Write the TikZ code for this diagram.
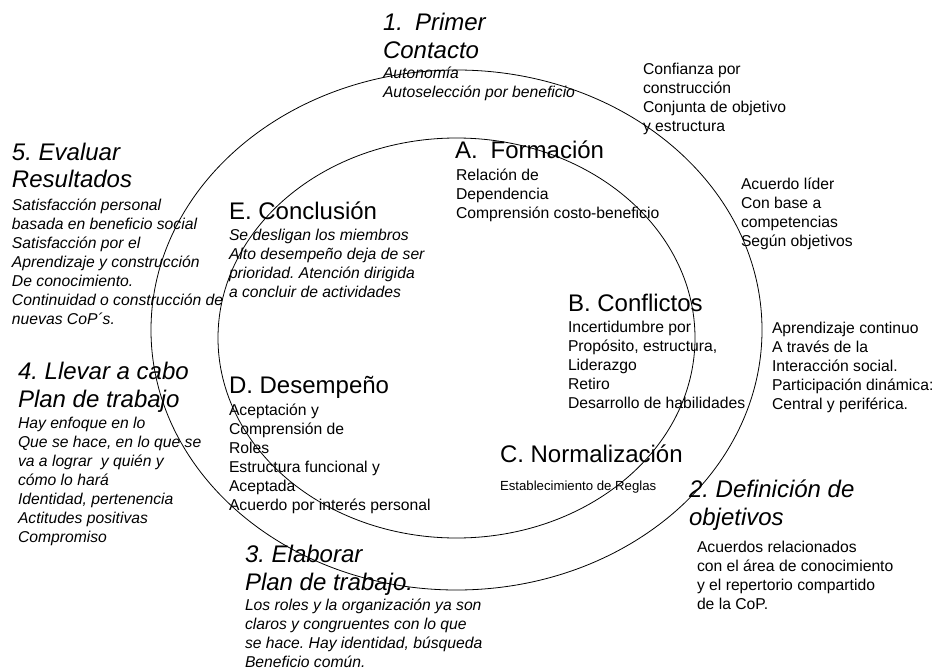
\documentclass[tikz,border=0pt]{standalone}
\usepackage{fontspec}
\setmainfont{Liberation Sans}
\frenchspacing
\begin{document}
\begin{tikzpicture}[x=1pt,y=-1pt,
  ring/.style={draw=black,line width=0.8pt},
  base/.style={anchor=base west,inner sep=0pt,outer sep=0pt,align=left},
  big/.style={base,font=\fontsize{24}{28}\selectfont},
  bigit/.style={base,font=\fontsize{24}{28}\selectfont\itshape},
  small/.style={base,font=\fontsize{15.7}{19}\selectfont},
  smallit/.style={base,font=\fontsize{15.7}{19}\selectfont\itshape},
  tiny/.style={base,font=\fontsize{13.2}{16}\selectfont}]
\useasboundingbox (0,0) rectangle (936,671);
\fill[white] (0,0) rectangle (936,671);
% rings
\draw[ring] (456.5,330) ellipse [x radius=305.5pt, y radius=260pt];
\draw[ring] (456.5,338) ellipse [x radius=238.5pt, y radius=200pt];
% (node positions are the baseline of the LAST line)
% stage 1
\node[bigit] (t1) at (383,59) {1.\hspace{12pt}Primer\\Contacto};
\node[smallit] (s1) at (383,98) {Autonomía\\Autoselección por beneficio};
\node[small] (r1) at (643,132) {Confianza por\\construcción\\Conjunta de objetivo\\y estructura};
\node[small] (r2) at (741,246) {Acuerdo líder\\Con base a\\competencias\\Según objetivos};
% A
\node[big] (tA) at (455,159) {A.\hspace{13pt}Formación};
\node[small] (sA) at (456,218) {Relación de\\Dependencia\\Comprensión costo-beneficio};
% E
\node[big] (tE) at (229,219) {E. Conclusión};
\node[smallit] (sE) at (229,297) {Se desligan los miembros\\Alto desempeño deja de ser\\prioridad. Atención dirigida\\a concluir de actividades};
% 5
\node[bigit] (t5) at (12,188) {5. Evaluar\\Resultados};
\node[smallit] (s5) at (12,324) {Satisfacción personal\\basada en beneficio social\\Satisfacción por el\\Aprendizaje y construcción\\De conocimiento.\\Continuidad o construcción de\\nuevas CoP´s.};
% B
\node[big] (tB) at (568,311) {B. Conflictos};
\node[small] (sB) at (568,408) {Incertidumbre por\\Propósito, estructura,\\Liderazgo\\Retiro\\Desarrollo de habilidades};
\node[small] (r3) at (772,409) {Aprendizaje continuo\\A través de la\\Interacción social.\\Participación dinámica:\\Central y periférica.};
% 4
\node[bigit] (t4) at (18,407) {4. Llevar a cabo\\Plan de trabajo};
\node[smallit] (s4) at (18,542) {Hay enfoque en lo\\Que se hace, en lo que se\\va a lograr~ y quién y\\cómo lo hará\\Identidad, pertenencia\\Actitudes positivas\\Compromiso};
% D
\node[big] (tD) at (229,393) {D. Desempeño};
\node[small] (sD) at (229,510) {Aceptación y\\Comprensión de\\Roles\\Estructura funcional y\\Aceptada\\Acuerdo por interés personal};
% C
\node[big] (tC) at (500,462) {C. Normalización};
\node[tiny] (sC) at (500,490) {Establecimiento de Reglas};
% 2
\node[bigit] (t2) at (689,525) {2. Definición de\\objetivos};
\node[small] (s2) at (697,609) {Acuerdos relacionados\\con el área de conocimiento\\y el repertorio compartido\\de la CoP.};
% 3
\node[bigit] (t3) at (245,590) {3. Elaborar\\Plan de trabajo.};
\node[smallit] (s3) at (245,667) {Los roles y la organización ya son\\claros y congruentes con lo que\\se hace. Hay identidad, búsqueda\\Beneficio común.};
\end{tikzpicture}
\end{document}
